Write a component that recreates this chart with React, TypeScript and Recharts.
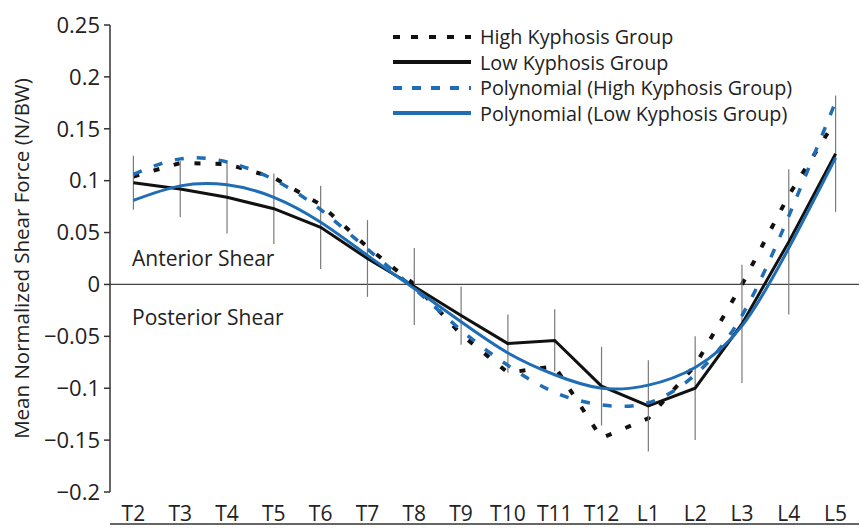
import React from 'react';
import { LineChart, Line, XAxis, YAxis, ReferenceLine, ErrorBar } from 'recharts';

// vertebral levels along the x axis
const categories = ['T2', 'T3', 'T4', 'T5', 'T6', 'T7', 'T8', 'T9', 'T10', 'T11', 'T12', 'L1', 'L2', 'L3', 'L4', 'L5'];

// mean normalized shear force (N/BW)
const highKyphosis = [0.104, 0.117, 0.116, 0.103, 0.077, 0.036, 0.0, -0.048, -0.085, -0.079, -0.148, -0.129, -0.078, 0.0, 0.086, 0.158];
const lowKyphosis = [0.098, 0.092, 0.084, 0.073, 0.055, 0.025, -0.002, -0.03, -0.057, -0.054, -0.098, -0.117, -0.1, -0.038, 0.041, 0.126];
const polyHighKyphosis = [0.106, 0.121, 0.118, 0.101, 0.072, 0.034, -0.004, -0.044, -0.078, -0.104, -0.116, -0.114, -0.087, -0.03, 0.066, 0.176];
const polyLowKyphosis = [0.081, 0.095, 0.096, 0.084, 0.06, 0.028, -0.004, -0.036, -0.066, -0.087, -0.1, -0.097, -0.08, -0.04, 0.035, 0.122];
// +/- spread drawn as grey whiskers on the low kyphosis group
const lowKyphosisError = [0.026, 0.027, 0.035, 0.034, 0.04, 0.037, 0.037, 0.028, 0.028, 0.03, 0.038, 0.044, 0.05, 0.057, 0.07, 0.056];

const yTicks = [0.25, 0.2, 0.15, 0.1, 0.05, 0, -0.05, -0.1, -0.15, -0.2];
const boundaryTicks = categories.map((_, i) => i).concat(categories.length);
const labelTicks = categories.map((_, i) => i + 0.5);

const data = categories.map((name, i) => ({
  pos: i + 0.5,
  name,
  high: highKyphosis[i],
  low: lowKyphosis[i],
  polyHigh: polyHighKyphosis[i],
  polyLow: polyLowKyphosis[i],
  lowErr: lowKyphosisError[i],
}));

const font = '"Open Sans", sans-serif';
const ink = '#222';
const blue = '#1f6db4';

const legendItems = [
  { label: 'High Kyphosis Group', color: '#111', dash: '7 11', width: 4 },
  { label: 'Low Kyphosis Group', color: '#111', dash: undefined, width: 4 },
  { label: 'Polynomial (High Kyphosis Group)', color: blue, dash: '9 10', width: 4 },
  { label: 'Polynomial (Low Kyphosis Group)', color: blue, dash: undefined, width: 4 },
];

const fmt = (v: number) => (v < 0 ? '\u2212' + Math.abs(v) : String(v));

export default function App() {
  return (
    <div style={{ position: 'absolute', left: 0, top: 0, width: 861, height: 530, background: '#fff', fontFamily: font }}>
      <LineChart width={861} height={530} data={data} margin={{ top: 25, right: 2, bottom: 0, left: 0 }}>
        <XAxis
          xAxisId="marks"
          dataKey="pos"
          type="number"
          domain={[0, categories.length]}
          ticks={boundaryTicks}
          tick={false}
          height={6}
          tickSize={6}
          stroke="#333"
          strokeWidth={1.5}
        />
        <XAxis
          dataKey="pos"
          type="number"
          domain={[0, categories.length]}
          ticks={labelTicks}
          tickFormatter={(v: number) => categories[Math.floor(v)]}
          axisLine={false}
          tickLine={false}
          tickMargin={8}
          height={32}
          tick={{ fill: ink, fontSize: 21, fontFamily: font }}
          interval={0}
        />
        <YAxis
          type="number"
          domain={[-0.2, 0.25]}
          ticks={yTicks}
          tickFormatter={fmt}
          width={110}
          tickSize={6}
          tickMargin={4}
          stroke="#333"
          strokeWidth={1.5}
          interval={0}
          tick={{ fill: ink, fontSize: 22, fontFamily: font }}
          label={{
            value: 'Mean Normalized Shear Force (N/BW)',
            angle: -90,
            position: 'insideLeft',
            offset: 22,
            style: { textAnchor: 'middle', fill: ink, fontSize: 20.5, fontFamily: font },
          }}
        />
        <ReferenceLine
          y={0}
          stroke="#444"
          strokeWidth={1.2}
          label={{ value: 'Anterior Shear', position: 'insideTopLeft', dx: 17, dy: -38, fill: ink, fontSize: 21, fontFamily: font }}
        />
        <ReferenceLine
          y={0}
          strokeOpacity={0}
          label={{ value: 'Posterior Shear', position: 'insideBottomLeft', dx: 17, dy: 46, fill: ink, fontSize: 21, fontFamily: font }}
        />
        <Line
          dataKey="high"
          name="High Kyphosis Group"
          stroke="#111"
          strokeWidth={4}
          strokeDasharray="6 15"
          dot={false}
          activeDot={false}
          isAnimationActive={false}
        />
        <Line
          dataKey="low"
          name="Low Kyphosis Group"
          stroke="#111"
          strokeWidth={3}
          dot={false}
          activeDot={false}
          isAnimationActive={false}
        >
          <ErrorBar dataKey="lowErr" width={0} stroke="#7a7a7a" strokeWidth={1.2} direction="y" />
        </Line>
        <Line
          dataKey="polyHigh"
          name="Polynomial (High Kyphosis Group)"
          type="natural"
          stroke={blue}
          strokeWidth={3.5}
          strokeDasharray="9 13"
          dot={false}
          activeDot={false}
          isAnimationActive={false}
        />
        <Line
          dataKey="polyLow"
          name="Polynomial (Low Kyphosis Group)"
          type="natural"
          stroke={blue}
          strokeWidth={3}
          dot={false}
          activeDot={false}
          isAnimationActive={false}
        />
      </LineChart>
      <div style={{ position: 'absolute', left: 393, top: 24 }}>
        {legendItems.map((item) => (
          <div key={item.label} style={{ display: 'flex', alignItems: 'center', height: 25.5 }}>
            <svg width={78} height={10} style={{ marginRight: 9 }}>
              <line x1={0} y1={5} x2={78} y2={5} stroke={item.color} strokeWidth={item.width} strokeDasharray={item.dash} />
            </svg>
            <span style={{ fontSize: 19.8, color: ink, whiteSpace: 'nowrap' }}>{item.label}</span>
          </div>
        ))}
      </div>
    </div>
  );
}
